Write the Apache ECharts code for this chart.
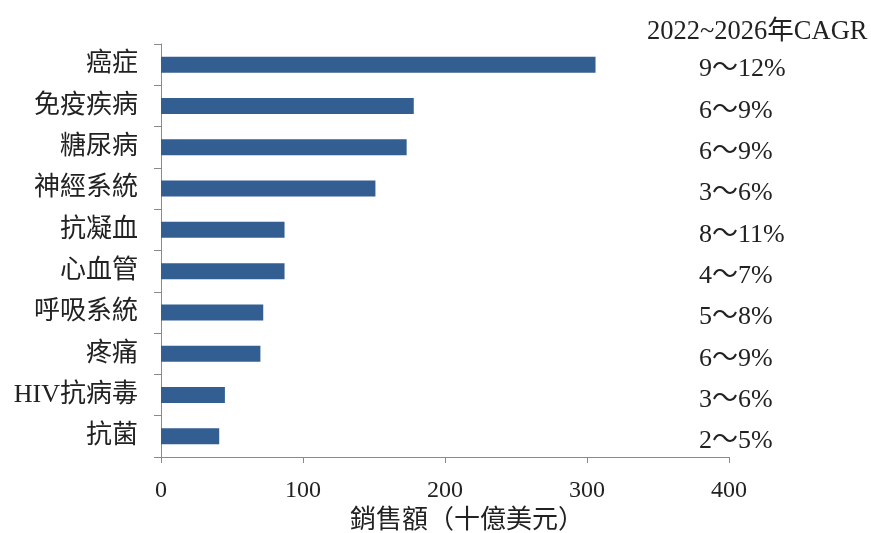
<!DOCTYPE html>
<html>
<head>
<meta charset="utf-8">
<script src="https://cdn.jsdelivr.net/npm/echarts@6/dist/echarts.min.js"></script>
<style>
  html, body { margin: 0; padding: 0; background: #fff; }
  #chart { width: 871px; height: 533px; }
</style>
</head>
<body>
<div id="chart"></div>
<script>
// Therapeutic areas, top to bottom
const categories = ['癌症', '免疫疾病', '糖尿病', '神經系統', '抗凝血', '心血管', '呼吸系統', '疼痛', 'HIV抗病毒', '抗菌'];
// Sales, billions of US dollars
const sales = [306, 178, 173, 151, 87, 87, 72, 70, 45, 41];
// Compound annual growth rate range, 2022~2026
const cagr = ['9～12%', '6～9%', '6～9%', '3～6%', '8～11%', '4～7%', '5～8%', '6～9%', '3～6%', '2～5%'];
const xTicks = [0, 100, 200, 300, 400];

const FONT = "'Liberation Serif', 'Noto Sans CJK TC', serif";
const TEXT = '#222222';
const AXIS = '#8a8a8a';

const chart = echarts.init(document.getElementById('chart'), null, { renderer: 'canvas' });

chart.setOption({
  backgroundColor: '#ffffff',
  animation: false,
  title: {
    text: '2022~2026年CAGR',
    left: 642,
    top: 14,
    textStyle: { fontFamily: FONT, fontSize: 26.5, fontWeight: 'normal', color: TEXT }
  },
  grid: { left: 161, right: 142, top: 44, bottom: 76, containLabel: false, outerBoundsMode: 'none' },
  xAxis: {
    type: 'value',
    min: xTicks[0],
    max: xTicks[xTicks.length - 1],
    interval: 100,
    name: '銷售額（十億美元）',
    nameLocation: 'middle',
    nameGap: 45,
    nameTextStyle: { fontFamily: FONT, fontSize: 26, color: TEXT, padding: [0, 0, 0, 44] },
    axisLine: { show: true, lineStyle: { color: AXIS, width: 1 } },
    axisTick: { show: true, length: 6, lineStyle: { color: AXIS } },
    axisLabel: { fontFamily: FONT, fontSize: 24, color: TEXT, margin: 22 },
    splitLine: { show: false }
  },
  yAxis: [
    {
      type: 'category',
      data: categories,
      inverse: true,
      axisLine: { show: true, lineStyle: { color: AXIS, width: 1 } },
      axisTick: { show: true, length: 7, lineStyle: { color: AXIS } },
      axisLabel: { fontFamily: FONT, fontSize: 26, color: TEXT, margin: 23 }
    },
    {
      type: 'category',
      data: cagr,
      inverse: true,
      position: 'right',
      offset: -30,
      axisLine: { show: false },
      axisTick: { show: false },
      axisLabel: {
        fontFamily: FONT, fontSize: 26, color: TEXT, margin: 0,
        align: 'left', verticalAlign: 'top', lineHeight: 10
      }
    }
  ],
  series: [
    {
      type: 'bar',
      data: sales,
      yAxisIndex: 0,
      barWidth: 16,
      itemStyle: { color: '#335e91' }
    }
  ]
});
</script>
</body>
</html>
